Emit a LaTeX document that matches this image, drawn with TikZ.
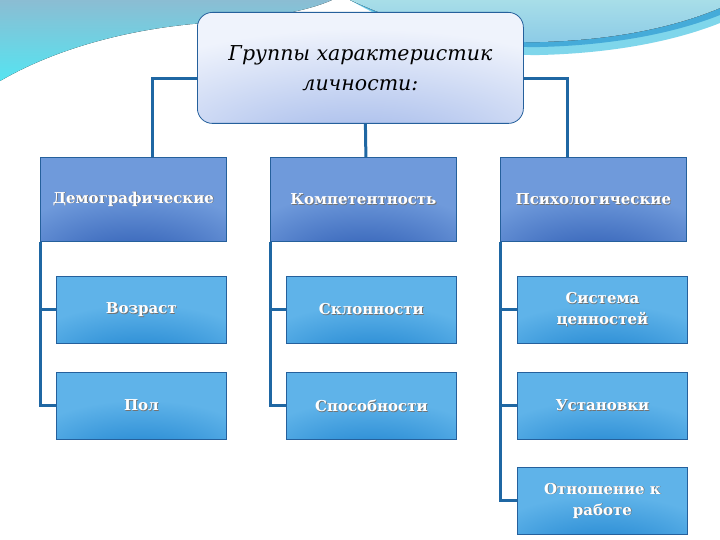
\documentclass[tikz,border=0pt]{standalone}
\usepackage{fontspec}
\setmainfont{DejaVu Serif}
\definecolor{l1base}{HTML}{6F9ADB}
\definecolor{l1dark}{HTML}{2C5BB3}
\definecolor{l2base}{HTML}{5FB3E9}
\definecolor{l2dark}{HTML}{1F84D0}
\definecolor{topbase}{HTML}{EFF3FC}
\definecolor{topdark}{HTML}{A3B9EA}
\definecolor{connc}{HTML}{1F67A3}
\definecolor{bordc}{HTML}{25609C}
\definecolor{bgA}{HTML}{8BBDD3}
\definecolor{bgAb}{HTML}{55E4F1}
\definecolor{bgB}{HTML}{A8DEE8}
\definecolor{bgBb}{HTML}{8CCBE7}
\definecolor{bandD}{HTML}{45ABD9}
\definecolor{bandL}{HTML}{7FD6EB}
\pgfdeclareradialshading{lvlone}{\pgfpoint{0bp}{-45bp}}{color(0bp)=(l1dark); color(5bp)=(l1dark); color(34bp)=(l1base); color(100bp)=(l1base)}
\pgfdeclareradialshading{lvltwo}{\pgfpoint{0bp}{-45bp}}{color(0bp)=(l2dark); color(5bp)=(l2dark); color(34bp)=(l2base); color(100bp)=(l2base)}
\pgfdeclareradialshading{lvltop}{\pgfpoint{0bp}{-42bp}}{color(0bp)=(topdark); color(5bp)=(topdark); color(42bp)=(topbase); color(100bp)=(topbase)}
\newcommand\shd[1]{\makebox[0pt][l]{\raisebox{-0.8pt}{\hspace{0.8pt}\textcolor{black!55}{#1}}}#1}
\tikzset{
  lone/.style={shade, shading=lvlone, draw=bordc, line width=0.8pt, minimum width=186pt, minimum height=84pt, anchor=north west, inner sep=0pt, text=white, align=center, font=\bfseries\fontsize{15}{21}\selectfont},
  ltwo/.style={shade, shading=lvltwo, draw=bordc, line width=0.8pt, minimum width=170pt, minimum height=67pt, anchor=north west, inner sep=0pt, text=white, align=center, font=\bfseries\fontsize{15}{21}\selectfont},
  topbox/.style={shade, shading=lvltop, draw=bordc, line width=0.8pt, rounded corners=15pt, minimum width=326pt, minimum height=111pt, anchor=north west, inner sep=0pt, align=center, font=\itshape\fontsize{20.5}{30}\selectfont},
  conn/.style={draw=connc, line width=3pt}
}
\begin{document}
\begin{tikzpicture}[x=1pt,y=-1pt]
\useasboundingbox[fill=white] (0,0) rectangle (720,540);
% background swooshes
\fill[top color=bgA, bottom color=bgAb] (0,0) -- (0,81) .. controls (60,46) and (140,26) .. (220,22) .. controls (270,18) and (310,10) .. (332,0) -- cycle;
\fill[bandL] (350,0) .. controls (420,40) and (480,56) .. (540,55) .. controls (620,53) and (680,39) .. (720,23) -- (720,0) -- cycle;
\fill[bandD] (350,0) .. controls (420,36) and (480,48) .. (540,47) .. controls (620,45) and (680,31) .. (720,15) -- (720,0) -- cycle;
\fill[top color=bgB, bottom color=bgBb] (350,0) .. controls (420,32) and (480,43) .. (540,42) .. controls (620,40) and (680,25) .. (720,8) -- (720,0) -- cycle;
% nodes
\node[topbox] (top) at (197,12) {Группы характеристик\\личности:};
\node[lone] (demo) at (40,157) {\shd{Демографические}};
\node[lone] (komp) at (270,157) {\shd{Компетентность}};
\node[lone] (psy) at (500,157) {\shd{Психологические}};
\node[ltwo] (vozr) at (56,276) {\shd{Возраст}};
\node[ltwo] (pol) at (56,372) {\shd{Пол}};
\node[ltwo] (skl) at (286,276) {\shd{Склонности}};
\node[ltwo] (spos) at (286,372) {\shd{Способности}};
\node[ltwo] (sist) at (517,276) {\shd{Система}\\\shd{ценностей}};
\node[ltwo] (ust) at (517,372) {\shd{Установки}};
\node[ltwo] (otn) at (517,467) {\shd{Отношение к}\\\shd{работе}};
% connectors
\draw[conn] ([yshift=-10.5pt]top.west) -| ([xshift=19pt]demo.north);
\draw[conn] ([yshift=-10.5pt]top.east) -| ([xshift=-25.5pt]psy.north);
\draw[conn] ([xshift=5pt]top.south) -- ([xshift=2.5pt]komp.north);
\draw[conn] (demo.south west) |- (vozr.west);
\draw[conn] (demo.south west) |- (pol.west);
\draw[conn] (komp.south west) |- (skl.west);
\draw[conn] (komp.south west) |- (spos.west);
\draw[conn] (psy.south west) |- (sist.west);
\draw[conn] (psy.south west) |- (ust.west);
\draw[conn] (psy.south west) |- (otn.west);
\end{tikzpicture}
\end{document}
